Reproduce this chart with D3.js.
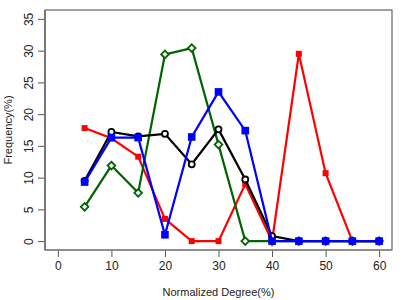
<!DOCTYPE html>
<html>
<head>
<meta charset="utf-8">
<script src="https://cdn.jsdelivr.net/npm/d3@7"></script>
<style>
  body { margin: 0; background: #fff; }
  text { font-family: "Liberation Sans", Arial, sans-serif; fill: #222; }
</style>
</head>
<body>
<div id="graph"></div>
<script>
// chart values
var degrees = [5, 10, 15, 20, 25, 30, 35, 40, 45, 50, 55, 60];
var redValues   = [17.8, 16.2, 13.3, 3.5, 0, 0, 9.0, 0, 29.5, 10.7, 0, 0];
var blackValues = [9.5, 17.2, 16.5, 16.9, 12.1, 17.6, 9.7, 0.8, 0, 0, 0, 0];
var greenValues = [5.4, 11.9, 7.6, 29.4, 30.4, 15.2, 0, 0, 0, 0, 0, 0];
var blueValues  = [9.3, 16.3, 16.3, 1.0, 16.4, 23.5, 17.4, 0, 0, 0, 0, 0];
var xTicks = [0, 10, 20, 30, 40, 50, 60];
var yTicks = [0, 5, 10, 15, 20, 25, 30, 35];

var width = 415, height = 300;
var plotLeft = 45, plotRight = 392, plotTop = 10, plotBottom = 250;

var svg = d3.select("#graph")
    .append("svg")
    .attr("width", width)
    .attr("height", height);

// R style: 4% padding around 0-60 and 0-35
var xScale = d3.scaleLinear().domain([-2.4, 62.4]).range([plotLeft, plotRight]);
var yScale = d3.scaleLinear().domain([-1.4, 36.4]).range([plotBottom, plotTop]);

// box
svg.append("rect")
    .attr("x", plotLeft).attr("y", plotTop)
    .attr("width", plotRight - plotLeft).attr("height", plotBottom - plotTop)
    .attr("fill", "none")
    .attr("stroke", "#444")
    .attr("stroke-width", 1);

var xAxis = svg.append("g")
    .attr("transform", "translate(0," + plotBottom + ")")
    .call(d3.axisBottom(xScale).tickValues(xTicks).tickSize(7).tickPadding(4));
xAxis.select(".domain").remove();
xAxis.selectAll("line").attr("stroke", "#555");
xAxis.selectAll("text").style("font-size", "12px").attr("fill", "#222");

var yAxis = svg.append("g")
    .attr("transform", "translate(" + plotLeft + ",0)")
    .call(d3.axisLeft(yScale).tickValues(yTicks).tickSize(7));
yAxis.select(".domain").remove();
yAxis.selectAll("line").attr("stroke", "#555");
// rotate tick labels like R (las = 0)
yAxis.selectAll(".tick text")
    .style("font-size", "12px")
    .attr("fill", "#222")
    .attr("x", 0).attr("y", 0).attr("dy", "0.32em")
    .attr("text-anchor", "middle")
    .attr("transform", "translate(-16,0) rotate(-90)");

// gray axis lines on left and bottom
svg.append("line")
    .attr("x1", plotLeft).attr("x2", plotLeft).attr("y1", plotTop).attr("y2", plotBottom)
    .attr("stroke", "#777").attr("stroke-width", 2);
svg.append("line")
    .attr("x1", plotLeft).attr("x2", plotRight).attr("y1", plotBottom).attr("y2", plotBottom)
    .attr("stroke", "#888").attr("stroke-width", 1.5);

svg.append("text")
    .attr("x", (plotLeft + plotRight) / 2)
    .attr("y", 296)
    .attr("text-anchor", "middle")
    .style("font-size", "11px")
    .text("Normalized Degree(%)");

svg.append("text")
    .attr("transform", "translate(12," + (plotTop + plotBottom) / 2 + ") rotate(-90)")
    .attr("text-anchor", "middle")
    .style("font-size", "11px")
    .text("Frequency(%)");

var line = d3.line()
    .x(function(d, i) { return xScale(degrees[i]); })
    .y(function(d) { return yScale(d); });

function drawSeries(values, color, shape) {
    var g = svg.append("g");
    g.append("path")
        .datum(values)
        .attr("d", line)
        .attr("fill", "none")
        .attr("stroke", color)
        .attr("stroke-width", 2.2);
    var pts = g.selectAll(".pt")
        .data(values)
        .enter();
    if (shape == "smallsquare") {
        pts.append("rect")
            .attr("x", function(d, i) { return xScale(degrees[i]) - 3; })
            .attr("y", function(d) { return yScale(d) - 3; })
            .attr("width", 6).attr("height", 6)
            .attr("fill", color);
    } else if (shape == "square") {
        pts.append("rect")
            .attr("x", function(d, i) { return xScale(degrees[i]) - 3.8; })
            .attr("y", function(d) { return yScale(d) - 3.8; })
            .attr("width", 7.6).attr("height", 7.6)
            .attr("fill", color);
    } else if (shape == "circle") {
        pts.append("circle")
            .attr("cx", function(d, i) { return xScale(degrees[i]); })
            .attr("cy", function(d) { return yScale(d); })
            .attr("r", 3)
            .attr("fill", "#fff")
            .attr("stroke", color)
            .attr("stroke-width", 1.8);
    } else if (shape == "diamond") {
        pts.append("path")
            .attr("d", "M0,-3.8L3.8,0L0,3.8L-3.8,0Z")
            .attr("transform", function(d, i) {
                return "translate(" + xScale(degrees[i]) + "," + yScale(d) + ")";
            })
            .attr("fill", "#fff")
            .attr("stroke", color)
            .attr("stroke-width", 1.8);
    }
}

drawSeries(redValues, "#ff0000", "smallsquare");
drawSeries(greenValues, "#006400", "diamond");
drawSeries(blackValues, "#000000", "circle");
drawSeries(blueValues, "#0000ff", "square");
</script>
</body>
</html>
